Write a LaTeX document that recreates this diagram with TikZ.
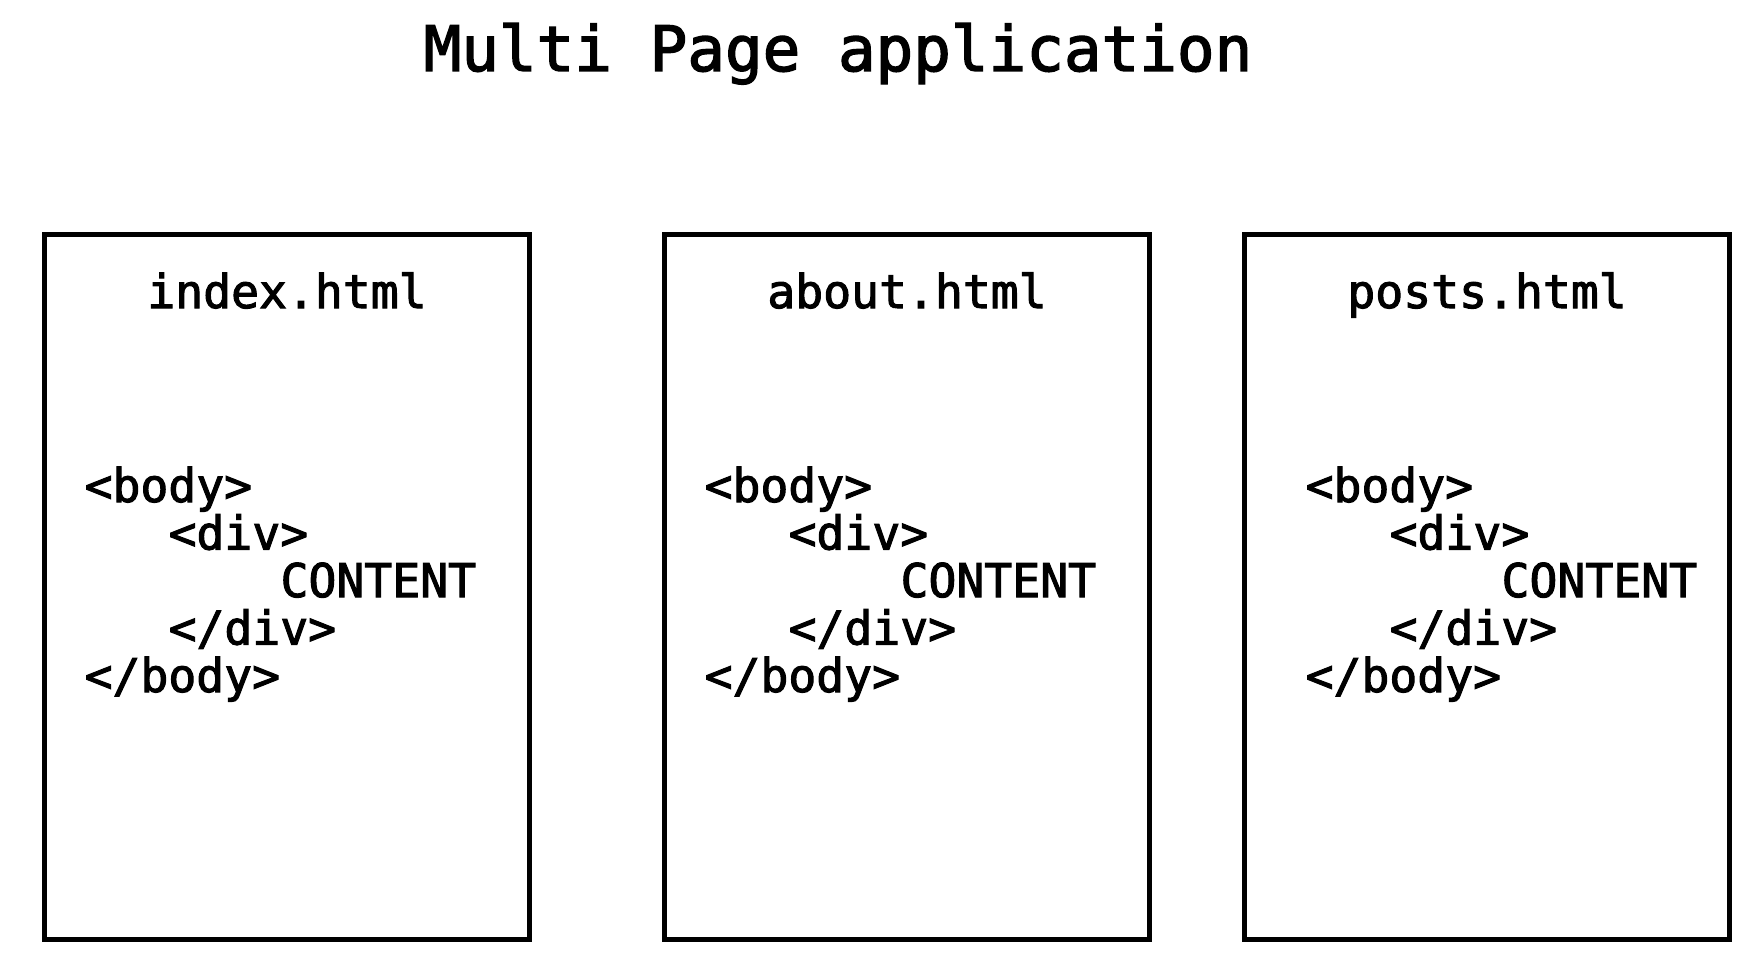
\documentclass[tikz,border=0pt]{standalone}
\usepackage{fontspec}
\newfontfamily\codefont{DejaVu Sans Mono}[FakeBold=2.2]
\usetikzlibrary{positioning}

\tikzset{
  page/.style={draw, line width=1.5pt, minimum width=4.85cm, minimum height=7.05cm, inner sep=0pt},
  fname/.style={font=\codefont\fontsize{13.2}{15}\selectfont, anchor=base, inner sep=0pt},
  codeline/.style={font=\codefont\fontsize{13.2}{15}\selectfont, anchor=base west, inner sep=0pt},
}

\begin{document}
\begin{tikzpicture}
\useasboundingbox (0,0) rectangle (17.64,-9.73);

% Title
\node[font=\codefont\fontsize{17.8}{20}\selectfont, anchor=base] (title) at (8.38,-0.71) {Multi Page application};

%---------------------------------------
% Pages
%---------------------------------------
\def\chw{0.28}  % width of one character
\foreach \i/\x/\off/\file in {1/2.87/0.42/index.html, 2/9.07/0.42/about.html, 3/14.87/0.63/posts.html}{
  \node[page] (page\i) at (\x,-5.87) {};
  \node[fname] (file\i) at (\x,-3.08) {\file};

  % code lines
  \foreach \j/\ind/\txt in {0/0/{<body>}, 1/3/{<div>}, 2/7/{CONTENT}, 3/3/{</div>}, 4/0/{</body>}}{
    \node[codeline] (code\i-\j) at ([xshift=\off cm + \ind*\chw cm]page\i.west |- 0,{-5.02-0.475*\j}) {\txt};
  }
}

\end{tikzpicture}
\end{document}
